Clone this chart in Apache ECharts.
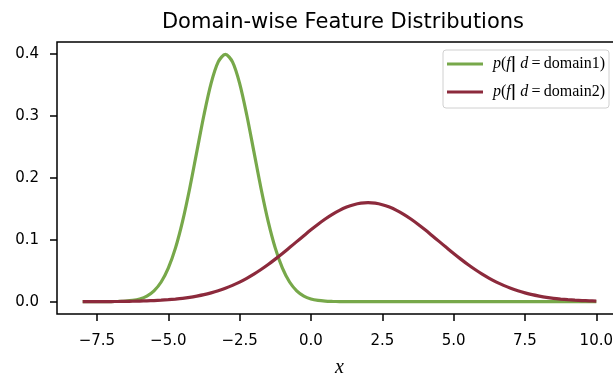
<!DOCTYPE html>
<html>
<head>
<meta charset="utf-8">
<script src="https://cdn.jsdelivr.net/npm/echarts@6/dist/echarts.min.js"></script>
<style>html,body{margin:0;padding:0;background:#fff}#c{width:613px;height:381px}</style>
</head>
<body>
<div id="c"></div>
<script>
const xs = [-8,-7.75,-7.5,-7.25,-7,-6.75,-6.5,-6.25,-6,-5.75,-5.5,-5.25,-5,-4.75,-4.5,-4.25,-4,-3.75,-3.5,-3.25,-3,-2.75,-2.5,-2.25,-2,-1.75,-1.5,-1.25,-1,-0.75,-0.5,-0.25,0,0.25,0.5,0.75,1,1.25,1.5,1.75,2,2.25,2.5,2.75,3,3.25,3.5,3.75,4,4.25,4.5,4.75,5,5.25,5.5,5.75,6,6.25,6.5,6.75,7,7.25,7.5,7.75,8,8.25,8.5,8.75,9,9.25,9.5,9.75,10];
const domain1 = [0,0,0,0,0.0001,0.0004,0.0009,0.0020,0.0044,0.0091,0.0175,0.0317,0.0540,0.0863,0.1295,0.1826,0.2420,0.3011,0.3521,0.3867,0.3989,0.3867,0.3521,0.3011,0.2420,0.1826,0.1295,0.0863,0.0540,0.0317,0.0175,0.0091,0.0044,0.0020,0.0009,0.0004,0.0001,0,0,0,0,0,0,0,0,0,0,0,0,0,0,0,0,0,0,0,0,0,0,0,0,0,0,0,0,0,0,0,0,0,0,0,0];
const domain2 = [0.0001,0.0001,0.0001,0.0002,0.0002,0.0003,0.0005,0.0007,0.0010,0.0013,0.0018,0.0024,0.0032,0.0042,0.0054,0.0070,0.0090,0.0113,0.0142,0.0176,0.0216,0.0263,0.0316,0.0377,0.0444,0.0518,0.0599,0.0686,0.0777,0.0872,0.0968,0.1064,0.1159,0.1249,0.1333,0.1408,0.1473,0.1525,0.1564,0.1588,0.1596,0.1588,0.1564,0.1525,0.1473,0.1408,0.1333,0.1249,0.1159,0.1064,0.0968,0.0872,0.0777,0.0686,0.0599,0.0518,0.0444,0.0377,0.0316,0.0263,0.0216,0.0176,0.0142,0.0113,0.0090,0.0070,0.0054,0.0042,0.0032,0.0024,0.0018,0.0013,0.0010];
const xTicks = [-7.5,-5,-2.5,0,2.5,5,7.5,10];
const yTicks = [0,0.1,0.2,0.3,0.4];
const seriesNames = ['domain1','domain2'];
const colors = ['#77a84a','#8c2a3c'];

const chart = echarts.init(document.getElementById('c'), null, {renderer:'canvas'});
const tickFont = {fontFamily:'DejaVu Sans', fontSize:15, color:'#000'};
chart.setOption({
  animation:false,
  backgroundColor:'#fff',
  title:{text:'Domain-wise Feature Distributions', left:338, textAlign:'center', top:7,
    textStyle:{fontFamily:'DejaVu Sans', fontWeight:'normal', fontSize:21, color:'#000'}},
  grid:{left:57, top:42, right:-9, bottom:67, show:true, borderColor:'#000', borderWidth:1.5, backgroundColor:'transparent',
    outerBoundsMode:'none', containLabel:false},
  legend:{
    orient:'vertical', left:443, top:50, padding:[6,4,8,4], itemWidth:36, itemHeight:3, itemGap:12,
    icon:'rect',
    backgroundColor:'#fff', borderColor:'#d0d0d0', borderWidth:1, borderRadius:3,
    data:seriesNames,
    formatter: n => '{i|p}{r|(}{i|f}{b||}{i| d}{r|\u2009=\u2009' + n + ')}',
    textStyle:{padding:[0,0,0,5],
      rich:{
        i:{fontFamily:'Liberation Serif', fontStyle:'italic', fontSize:16, lineHeight:18, color:'#000'},
        r:{fontFamily:'Liberation Serif', fontSize:16, lineHeight:18, color:'#000'},
        b:{fontFamily:'DejaVu Sans', fontWeight:'bold', fontSize:15, lineHeight:18, color:'#000'}
      }}
  },
  xAxis:{type:'value', min:-8.9, max:10.9,
    name:'x', nameLocation:'middle', nameGap:44, nameMoveOverlap:false,
    nameTextStyle:{fontFamily:'Liberation Serif', fontStyle:'italic', fontSize:20, color:'#000'},
    axisLine:{show:false, onZero:false},
    axisTick:{show:true, inside:false, length:7, customValues:xTicks, lineStyle:{color:'#000', width:1.5}},
    axisLabel:Object.assign({margin:20, customValues:xTicks, formatter:v => (v<0?'\u2212':'') + Math.abs(v).toFixed(1)}, tickFont),
    splitLine:{show:false}},
  yAxis:{type:'value', min:-0.0199, max:0.4188,
    axisLine:{show:false, onZero:false},
    axisTick:{show:true, inside:false, length:7, customValues:yTicks, lineStyle:{color:'#000', width:1.5}},
    axisLabel:Object.assign({margin:18, customValues:yTicks, formatter:v => v.toFixed(1)}, tickFont),
    splitLine:{show:false}},
  series:[
    {name:seriesNames[0], type:'line', smooth:0.3, symbol:'none', color:colors[0],
     lineStyle:{width:3.2, color:colors[0]}, data:xs.map((x,i)=>[x, domain1[i]]), z:3},
    {name:seriesNames[1], type:'line', smooth:0.3, symbol:'none', color:colors[1],
     lineStyle:{width:3.2, color:colors[1]}, data:xs.map((x,i)=>[x, domain2[i]]), z:4}
  ]
});
</script>
</body>
</html>
